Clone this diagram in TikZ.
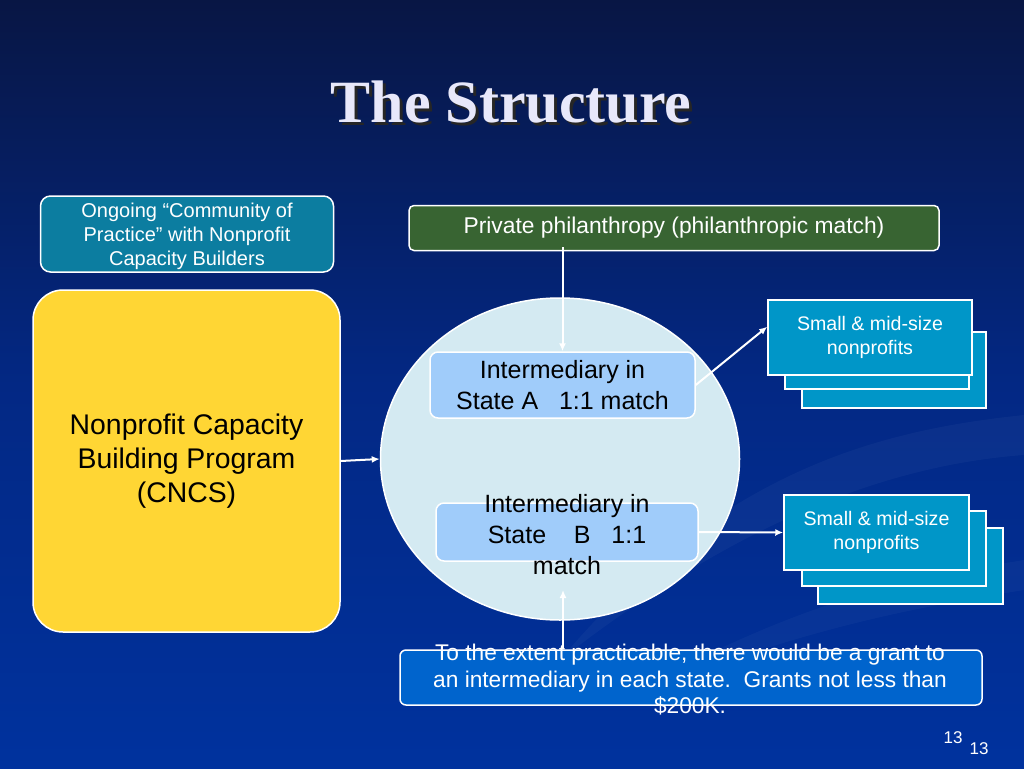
\documentclass[tikz,border=0pt]{standalone}
\usepackage{fontspec}
\setmainfont{Liberation Sans}
\newfontfamily\titlefont{Liberation Serif}
\usetikzlibrary{arrows.meta,shapes.geometric}
\definecolor{bgTop}{RGB}{8,22,68}
\definecolor{bgMid}{RGB}{3,40,132}
\definecolor{bgBot}{RGB}{0,50,158}
\definecolor{tealND}{RGB}{12,125,160}
\definecolor{sunND}{RGB}{255,214,52}
\definecolor{mossND}{RGB}{56,100,50}
\definecolor{iceND}{RGB}{212,234,242}
\definecolor{skyND}{RGB}{160,204,250}
\definecolor{aquaND}{RGB}{0,150,200}
\definecolor{grantND}{RGB}{0,100,205}
\definecolor{ttlND}{RGB}{232,232,250}

\begin{document}
\begin{tikzpicture}[x=1pt,y=-1pt,
                    boxND/.style={draw=white,
                                  line width=1.5pt,
                                  inner sep=0pt,
                                  align=center,
                                  text centered},
                    commND/.style={boxND,
                                   fill=tealND,
                                   rounded corners=10pt,
                                   minimum width=293pt,
                                   minimum height=76pt},
                    commTX/.style={align=center,
                                   inner sep=0pt,
                                   text=white,
                                   font=\fontsize{20}{24}\selectfont},
                    progND/.style={boxND,
                                   fill=sunND,
                                   rounded corners=30pt,
                                   minimum width=307pt,
                                   minimum height=342pt,
                                   font=\fontsize{28.4}{34}\selectfont},
                    philND/.style={boxND,
                                   fill=mossND,
                                   rounded corners=5pt,
                                   text=white,
                                   minimum width=530pt,
                                   minimum height=45pt,
                                   font=\fontsize{22.8}{26}\selectfont},
                    hubND/.style={boxND,
                                  ellipse,
                                  fill=iceND,
                                  minimum width=359pt,
                                  minimum height=322pt},
                    interND/.style={boxND,
                                    fill=skyND,
                                    rounded corners=8pt},
                    interTX/.style={align=center,
                                    inner sep=0pt,
                                    font=\fontsize{25}{31}\selectfont},
                    npND/.style={boxND,
                                 fill=aquaND,
                                 text=white,
                                 font=\fontsize{19.6}{24.5}\selectfont},
                    grantTX/.style={align=center,
                                    inner sep=0pt,
                                    text=white,
                                    font=\fontsize{22.7}{26.5}\selectfont},
                    pgND/.style={text=white,
                                 inner sep=0pt,
                                 font=\fontsize{17}{19}\selectfont},
                    arrND/.style={-{Latex[length=8pt,width=7pt]}, white, line width=2pt}]
            % background
            \fill[top color=bgTop, bottom color=bgBot, middle color=bgMid] (0,0) rectangle (1024,768);
            \fill[white, opacity=.035] (560,660) .. controls (720,470) and (880,430) .. (1024,415)
                                    -- (1024,455) .. controls (890,465) and (740,520) .. (560,660);
            \fill[white, opacity=.03] (620,700) .. controls (800,600) and (900,580) .. (1024,560)
                                   -- (1024,590) .. controls (900,610) and (800,630) .. (620,700);
            % title
            \node[text=black!85, font=\titlefont\bfseries\fontsize{60}{66}\selectfont](ttlS) at (514,105) {The Structure};
            \node[text=ttlND, font=\titlefont\bfseries\fontsize{60}{66}\selectfont](ttl) at (511,102) {The Structure};
            % boxes
            \node[commND](comm) at (187,234) {};
            \node[commTX](commtx) at (187,236) {Ongoing “Community of\\Practice” with Nonprofit\\Capacity Builders};
            \node[progND](cncs) at (186.5,461) {Nonprofit Capacity\\Building Program\\(CNCS)};
            \node[philND](phil) at (674,228) {Private philanthropy (philanthropic match)};
            \node[hubND](hub) at (560,459) {};
            \node[interND, minimum width=265pt, minimum height=66pt](stA) at (562.5,385) {};
            \node[interTX](stAtx) at (stA) {Intermediary in\\State A\ \ \ 1:1 match};
            \node[interND, minimum width=262pt, minimum height=58pt](stB) at (567,532) {};
            \node[interTX](stBtx) at (567,535) {Intermediary in\\State\ \ \ \ B\ \ \ 1:1\\match};
            % small nonprofits, back to front
            \node[npND, minimum width=184pt, minimum height=76pt](npAc) at (894,370) {};
            \node[npND, minimum width=184pt, minimum height=73pt](npAb) at (877,352.5) {};
            \node[npND, minimum width=204pt, minimum height=75pt](npAa) at (870,337.5) {Small \& mid-size\\nonprofits};
            \node[npND, minimum width=185pt, minimum height=76pt](npBc) at (910.5,566) {};
            \node[npND, minimum width=184pt, minimum height=75pt](npBb) at (894,548.5) {};
            \node[npND, minimum width=185pt, minimum height=75pt](npBa) at (876.5,532.5) {Small \& mid-size\\nonprofits};
            % grant box
            \node[boxND, fill=grantND, rounded corners=6pt, minimum width=582pt, minimum height=55pt](grant) at (691,677.5) {};
            \node[grantTX](granttx) at (690,680) {To the extent practicable, there would be a grant to\\an intermediary in each state.\ \ Grants not less than\\\$200K.};
            \coordinate (hubIn) at (563,590);
            % page numbers
            \node[pgND](pgA) at (953,738) {13};
            \node[pgND](pgB) at (979,749) {13};
            \path
                ([yshift=4pt]stA.north |- phil.south) edge [arrND] (stA.north)
                (cncs.east) edge [arrND] (hub.west)
                (stA.east)  edge [arrND] (npAa.174)
                (stB.east)  edge [arrND] (npBa.west)
                (grant.north -| hubIn) edge [arrND] (hubIn)
                ;
        \end{tikzpicture}
\end{document}
